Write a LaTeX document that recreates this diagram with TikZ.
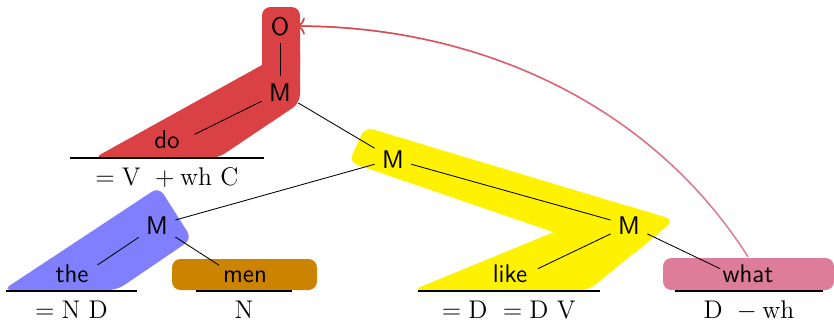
\documentclass[tikz,border=0pt]{standalone}
\usepackage{tikz}
\usetikzlibrary{arrows.meta, fadings}
\definecolor{MGRed}{RGB}{218,65,68}
\definecolor{MGYellow}{RGB}{255,242,0}
\definecolor{MGBlue}{RGB}{128,128,255}
\definecolor{MGOrange}{RGB}{204,132,0}
\definecolor{MGPink}{RGB}{221,125,153}
\tikzfading[name=movefade, left color=transparent!0, right color=transparent!100]

\begin{document}
\begin{tikzpicture}[x=0.47pt, y=-0.47pt,
    tn/.style={font=\sffamily\large, anchor=base},
    feat/.style={anchor=north, inner sep=0pt, font=\large,
                 text height=12.7pt, text depth=3pt},
    edge/.style={thin},
    leafedge/.style={thin, shorten >=14.5pt},
    uline/.style={line width=0.5pt},
    span/.style={rounded corners=4pt},
    move/.style={line width=0.7pt, -{To[scale=1.2]}}
  ]
  \useasboundingbox (0,0) rectangle (834,321);

  % Spans
  \fill[MGRed, span] (262,7) rectangle (300,80);
  \fill[MGRed, span] (94,158) -- (300,44) -- (300,103) -- (218,158) -- cycle;
  \fill[MGYellow, span] (365,127) -- (674,220) -- (629,258) -- (349,162) -- cycle;
  \fill[MGYellow, span] (413,290) -- (622,204) -- (674,220) -- (589,290) -- cycle;
  \fill[MGBlue, span] (159,187) -- (192,239) -- (117,290) -- (3,290) -- cycle;
  \fill[MGOrange, span] (172,259) rectangle (317,290);
  \fill[MGPink, span] (663,258) rectangle (834,290);

  % Tree
  \node[tn] (O)    at (280,35)  {O};
  \node[tn] (Mr)   at (280,101) {M};
  \node[tn] (do)   at (167,148) {do};
  \node[tn] (My)   at (393,168) {M};
  \node[tn] (Mb)   at (157,234) {M};
  \node[tn] (Ml)   at (629,234) {M};
  \node[tn] (the)  at (72,282)  {the};
  \node[tn] (men)  at (245,282) {men};
  \node[tn] (like) at (510,282) {like};
  \node[tn] (what) at (748,282) {what};

  \draw[edge] (O) -- (Mr);
  \draw[edge] (Mr) -- (My);
  \draw[edge] (My) -- (Mb);
  \draw[edge] (My) -- (Ml);
  \draw[leafedge] (Mr) -- (do.base);
  \draw[leafedge] (Mb) -- (the.base);
  \draw[leafedge] (Mb) -- (men.base);
  \draw[leafedge] (Ml) -- (like.base);
  \draw[leafedge] (Ml) -- (what.base);

  % Features
  \node[feat, minimum width=91.2pt] (fdo)   at (167,158)  {$=\mathrm{V}\ +\mathrm{wh}\ \mathrm{C}$};
  \node[feat, minimum width=61.6pt] (fthe)  at (71.5,291) {$=\mathrm{N}\ \mathrm{D}$};
  \node[feat, minimum width=45.1pt] (fmen)  at (244,291)  {$\mathrm{N}$};
  \node[feat, minimum width=85.5pt] (flike) at (509,291)  {$=\mathrm{D}\ =\mathrm{D}\ \mathrm{V}$};
  \node[feat, minimum width=69.6pt] (fwhat) at (749,291)  {$\mathrm{D}\ -\mathrm{wh}$};
  \foreach \f in {fdo, fthe, fmen, flike, fwhat}
    \draw[uline] (\f.north west) -- (\f.north east);

  % Movement
  \draw[move, MGPink] (what.north) .. controls +(-98,-154) and +(180,0) .. (O.east);
  \draw[move, MGRed, path fading=movefade]
    (what.north) .. controls +(-98,-154) and +(180,0) .. (O.east);
\end{tikzpicture}
\end{document}
